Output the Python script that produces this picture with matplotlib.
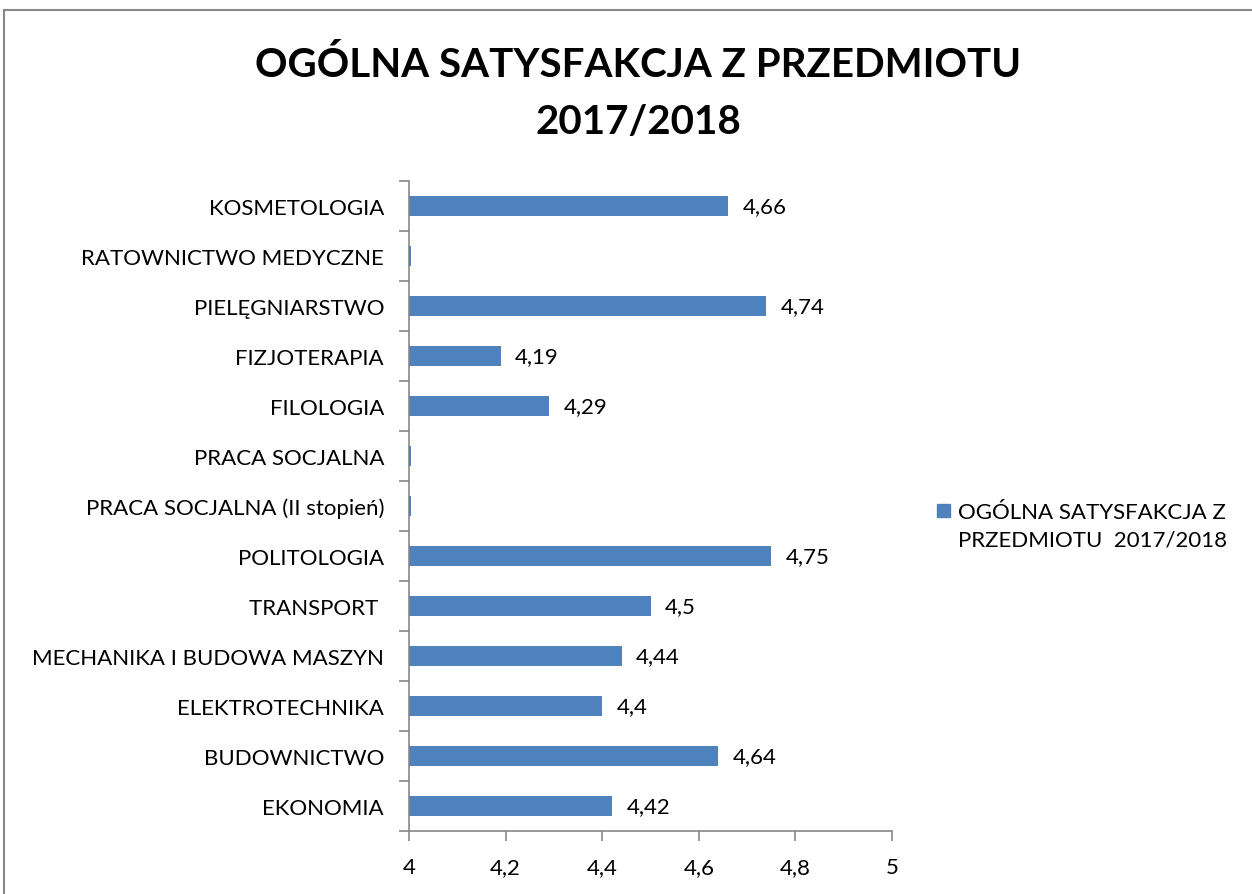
import numpy as np
import matplotlib.pyplot as plt
from matplotlib.patches import Rectangle
from matplotlib.ticker import FixedLocator

plt.rcParams['font.family'] = ['Lato', 'DejaVu Sans']

# dane (od góry do dołu)
kierunki = ['KOSMETOLOGIA', 'RATOWNICTWO MEDYCZNE', 'PIELĘGNIARSTWO', 'FIZJOTERAPIA',
            'FILOLOGIA', 'PRACA SOCJALNA', 'PRACA SOCJALNA (II stopień)', 'POLITOLOGIA',
            'TRANSPORT ', 'MECHANIKA I BUDOWA MASZYN', 'ELEKTROTECHNIKA', 'BUDOWNICTWO',
            'EKONOMIA']
oceny = [4.66, 0, 4.74, 4.19, 4.29, 0, 0, 4.75, 4.5, 4.44, 4.4, 4.64, 4.42]
x_ticks = [4, 4.2, 4.4, 4.6, 4.8, 5]
seria = 'OGÓLNA SATYSFAKCJA Z\nPRZEDMIOTU  2017/2018'

kolor = '#4F81BD'
szary = '#888888'
fs = 16

fig = plt.figure(figsize=(12.52, 8.95), dpi=100)
fig.patches.append(Rectangle((4 / 1252, -0.1), 1.2, 1 - 11 / 895 + 0.1,
                             transform=fig.transFigure, fill=False,
                             edgecolor=szary, linewidth=1.5))
ax = fig.add_axes([409 / 1252, 63 / 895, 483 / 1252, 650 / 895])

n = len(kierunki)
y = np.arange(n)[::-1]
vals = np.array(oceny, dtype=float)
ax.barh(y, vals, height=0.4, color=kolor, label=seria.replace('\n', ' '))
# puste wartości - Excel rysuje cienką linię przy osi
puste = vals == 0
ax.barh(y[puste], np.full(puste.sum(), 0.0035), left=4, height=0.4, color=kolor, zorder=3)

for yi, v in zip(y, vals):
    if v > 0:
        ax.text(v + 0.03, yi, f'{v:g}'.replace('.', ','), va='center', ha='left',
                fontsize=fs)

ax.set_xlim(4, 5)
ax.set_ylim(-0.5, n - 0.5)
ax.set_xticks(x_ticks)
ax.set_xticklabels([f'{t:g}'.replace('.', ',') for t in x_ticks], fontsize=fs)
ax.set_yticks(y)
ax.set_yticklabels(kierunki, fontsize=fs)
ax.yaxis.set_minor_locator(FixedLocator(np.arange(-0.5, n, 1)))
ax.tick_params(axis='y', which='major', length=0, pad=18)
ax.tick_params(axis='y', which='minor', length=7, color=szary, width=1.2, direction='out')
ax.tick_params(axis='x', length=7, color=szary, width=1.2, direction='out', pad=12)
for s in ['top', 'right']:
    ax.spines[s].set_visible(False)
for s in ['left', 'bottom']:
    ax.spines[s].set_color(szary)
    ax.spines[s].set_linewidth(1.2)

fig.text(0.51, 1 - 65 / 895, 'OGÓLNA SATYSFAKCJA Z PRZEDMIOTU', ha='center', va='center',
         fontsize=29, fontweight='bold')
fig.text(0.51, 1 - 122 / 895, '2017/2018', ha='center', va='center',
         fontsize=29, fontweight='bold')

# legenda
fig.patches.append(Rectangle((937 / 1252, 1 - 518 / 895), 13 / 1252, 13 / 895,
                             transform=fig.transFigure, color=kolor))
fig.text(958 / 1252, 1 - 527 / 895, seria, ha='left', va='center', fontsize=fs,
         linespacing=1.45)

fig.savefig('out.png', dpi=100)
